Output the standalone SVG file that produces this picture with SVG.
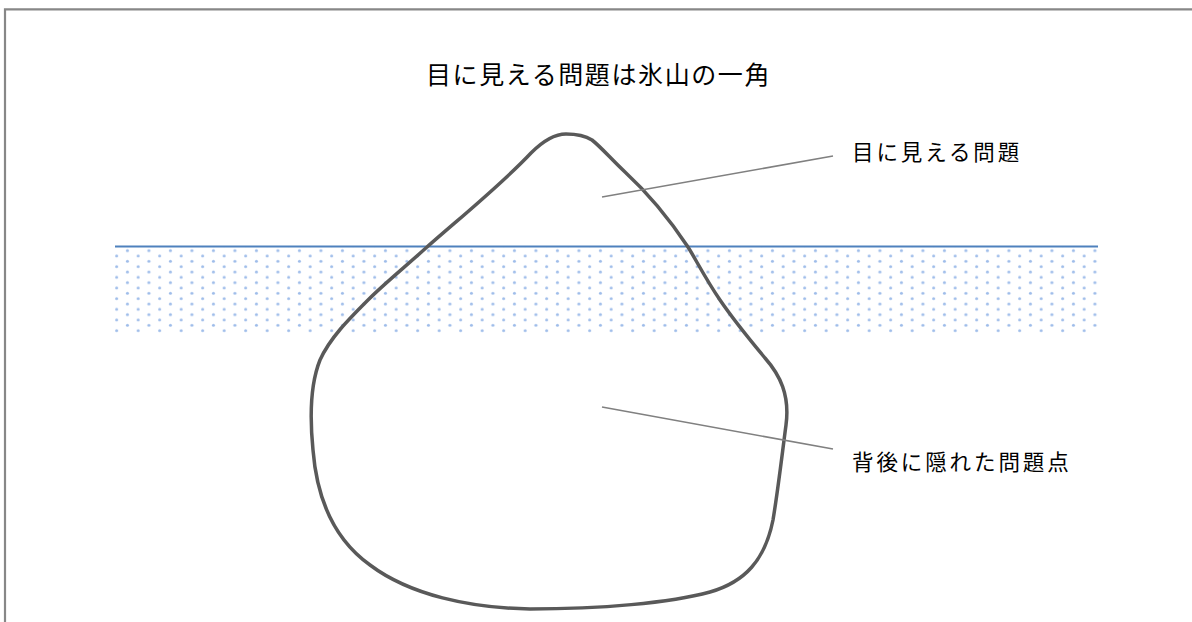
<svg xmlns="http://www.w3.org/2000/svg" width="1192" height="622" viewBox="0 0 1192 622">
  <style>
    .frame { fill: none; stroke: #878787; stroke-width: 2.2; }
    .berg { fill: none; stroke: #595959; stroke-width: 3.5; stroke-linejoin: round; }
    .surface { stroke: #4f81bd; stroke-width: 1.8; }
    .leader { stroke: #808080; stroke-width: 1.6; fill: none; }
    .jp { font-family: "Noto Sans CJK JP", "Noto Sans CJK SC", sans-serif; fill: #000000; font-weight: 400; }
    .title { font-size: 25px; letter-spacing: 1.6px; }
    .label { font-size: 21.5px; letter-spacing: 2.9px; }
  </style>
  <defs>
    <pattern id="waterDots" patternUnits="userSpaceOnUse" x="111.3" y="253.3" width="21.5" height="10.667">
      <circle cx="5.375" cy="2.667" r="1.5" fill="#9fbdea"/>
      <circle cx="16.125" cy="8" r="1.5" fill="#9fbdea"/>
    </pattern>
  </defs>

  <rect width="1192" height="622" fill="#ffffff"/>

  <!-- outer frame (top and left edges) -->
  <polyline class="frame" points="5,622 5,9.3 1192,9.3"/>

  <!-- submerged zone -->
  <g id="water">
    <rect x="115" y="247" width="984" height="86" fill="url(#waterDots)"/>
    <line class="surface" x1="115" y1="246.5" x2="1098" y2="246.5"/>
  </g>

  <!-- iceberg outline -->
  <g id="iceberg">
    <path class="berg" d="M566,134
      C553,134 542,142 531,153
      C500,186 455,222 427,247
      C405,267 385,283 368,300
      C348,320 330,338 320,360
      C310,385 310,420 313,450
      C317,500 335,540 370,565
      C410,595 470,608 530,609
      C600,609 670,603 710,592
      C745,582 765,560 773,520
      C778,490 782,455 786,425
      C790,395 780,375 765,358
      C750,340 735,322 720,300
      C705,278 695,258 688,247
      C670,220 650,195 625,172
      C612,160 601,147 592,140
      C584,135 575,134 566,134 Z"/>
  </g>

  <!-- leader lines -->
  <g id="connectors">
    <line class="leader" x1="602" y1="197" x2="833" y2="156"/>
    <line class="leader" x1="602" y1="407" x2="833" y2="449"/>
  </g>

  <g id="title">
    <text class="jp title" x="426" y="84">目に見える問題は氷山の一角</text>
  </g>
  <g id="label-visible">
    <text class="jp label" x="852" y="160">目に見える問題</text>
  </g>
  <g id="label-hidden">
    <text class="jp label" x="852" y="470">背後に隠れた問題点</text>
  </g>
</svg>
